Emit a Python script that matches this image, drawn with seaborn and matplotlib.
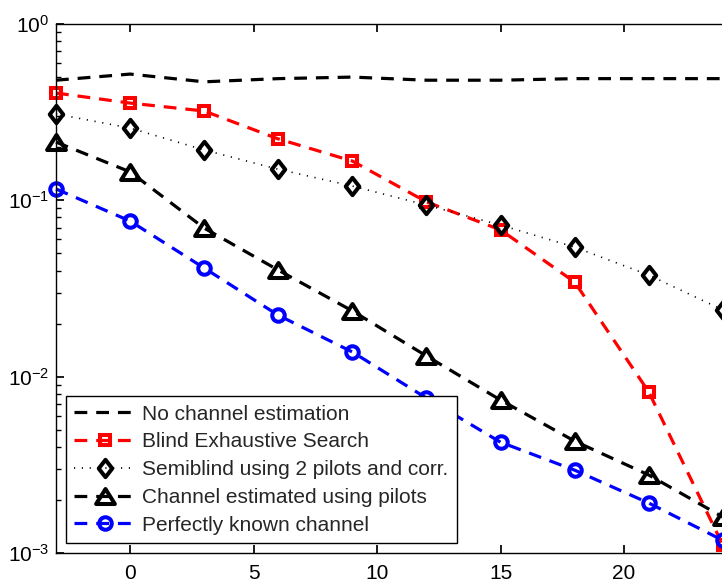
import numpy as np
import pandas as pd
import matplotlib
matplotlib.use("Agg")
import matplotlib.pyplot as plt
from matplotlib.path import Path
import seaborn as sns

# SNR grid (dB) and bit error rates for each receiver
snr = [-3, 0, 3, 6, 9, 12, 15, 18, 21, 24]
ber_no_est = [0.48, 0.52, 0.47, 0.49, 0.50, 0.48, 0.48, 0.49, 0.49, 0.49]
ber_blind = [0.406, 0.356, 0.321, 0.223, 0.167, 0.098, 0.068, 0.0344, 0.0082, 0.00111]
ber_semiblind = [0.309, 0.257, 0.193, 0.150, 0.1205, 0.094, 0.0724, 0.0543, 0.0377, 0.0239]
ber_pilots = [0.214, 0.145, 0.0696, 0.0402, 0.0236, 0.0131, 0.00737, 0.00431, 0.00277, 0.0016]
ber_known = [0.116, 0.0763, 0.0413, 0.0223, 0.0138, 0.00756, 0.00425, 0.00295, 0.00192, 0.00118]

labels = [
    "No channel estimation",
    "Blind Exhaustive Search",
    "Semiblind using 2 pilots and corr.",
    "Channel estimated using pilots",
    "Perfectly known channel",
]
x_ticks = [0, 5, 10, 15, 20]

sns.set_theme(style="ticks")
plt.rcParams["font.family"] = ["Liberation Sans", "DejaVu Sans"]
plt.rcParams["mathtext.default"] = "regular"

# open marker shapes: a slightly wide diamond and a squat triangle
diamond = Path([(0, 1), (0.78, 0), (0, -1), (-0.78, 0), (0, 1)], closed=True)
triangle = Path([(0, 0.8), (1, -0.8), (-1, -0.8), (0, 0.8)], closed=True)

fig = plt.figure(figsize=(7.22, 5.83), dpi=100)
ax = fig.add_axes([56 / 722, 30 / 583, 815 / 722, 529 / 583])

series = [ber_no_est, ber_blind, ber_semiblind, ber_pilots, ber_known]
styles = [
    dict(color="black", marker=None, ms=0, dashes=(4, 2.8), lw=2.3),
    dict(color="red", marker="s", ms=7.5, dashes=(4, 2.8), lw=2.3),
    dict(color="black", marker=diamond, ms=12.5, dashes=(0.7, 4.0), lw=1.2),
    dict(color="black", marker=triangle, ms=13.5, dashes=(4, 2.8), lw=2.3),
    dict(color="blue", marker="o", ms=9.0, dashes=(4, 2.8), lw=2.3),
]

handles = []
for vals, lab, st in zip(series, labels, styles):
    df = pd.DataFrame({"snr": snr, "ber": vals})
    sns.lineplot(data=df, x="snr", y="ber", ax=ax, color=st["color"],
                 linewidth=st["lw"], legend=False)
    line = ax.lines[-1]
    line.set_dashes(st["dashes"])
    if st["marker"] is not None:
        line.set_marker(st["marker"])
        line.set_markersize(st["ms"])
        line.set_markerfacecolor("none")
        line.set_markeredgecolor(st["color"])
        line.set_markeredgewidth(2.9)
    line.set_label(lab)
    line.set_clip_on(False)
    handles.append(line)

ax.set_yscale("log")
ax.set_ylim(1e-3, 1)
ax.set_xlim(-3, 30)
ax.set_xticks(x_ticks)
ax.set_xlabel("")
ax.set_ylabel("")

for s in ax.spines.values():
    s.set_linewidth(1.0)
    s.set_color("black")
ax.tick_params(axis="both", which="both", direction="in", top=True, right=True,
               labelsize=15, colors="black")
ax.tick_params(axis="x", which="major", length=6, pad=8)
ax.tick_params(axis="y", which="major", length=6, pad=5)
ax.tick_params(axis="y", which="minor", length=3.5)
ax.tick_params(axis="x", which="minor", bottom=False, top=False)

leg = ax.legend(handles=handles, loc="lower left",
                bbox_to_anchor=(10 / 815, 10 / 529), borderaxespad=0,
                fontsize=15, frameon=True, fancybox=False, framealpha=1,
                edgecolor="black", handlelength=2.9, handletextpad=0.35,
                labelspacing=0.42, borderpad=0.4, numpoints=1)
leg.get_frame().set_linewidth(1.0)
leg.set_zorder(5)

fig.savefig("out.png", dpi=100)
